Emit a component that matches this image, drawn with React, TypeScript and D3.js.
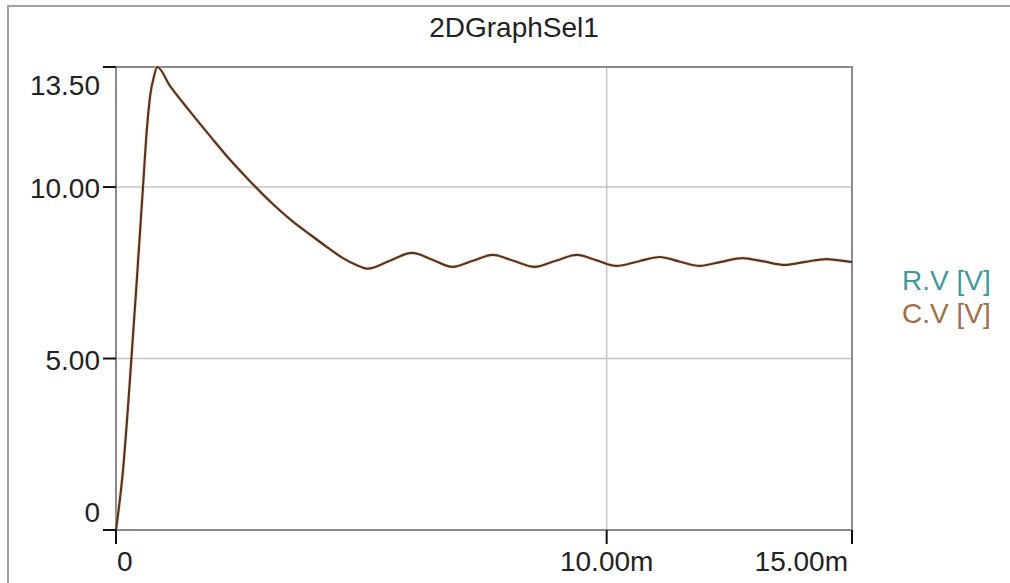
import * as d3 from "d3";

// C.V transient: time in ms, voltage in V
const timeMs = [
  0, 0.14, 0.28, 0.42, 0.55, 0.63, 0.7, 0.77, 0.84,
  1.1, 1.51, 1.91, 2.32, 2.73, 3.2, 3.6, 3.95, 4.3, 4.6, 4.91, 5.13,
  5.58, 6.03, 6.45, 6.86, 7.27, 7.68, 8.1, 8.53, 8.96, 9.39, 9.8, 10.2,
  10.64, 11.08, 11.48, 11.89, 12.33, 12.77, 13.2, 13.63, 14.05, 14.48, 14.9, 15,
];
const voltage = [
  0, 1.7, 4.3, 7.2, 10.0, 11.7, 12.7, 13.2, 13.5,
  12.95, 12.2, 11.5, 10.8, 10.17, 9.5, 9.0, 8.62, 8.25, 7.95, 7.72, 7.62,
  7.85, 8.08, 7.88, 7.67, 7.85, 8.02, 7.85, 7.67, 7.85, 8.02, 7.86, 7.7,
  7.83, 7.96, 7.83, 7.7, 7.82, 7.93, 7.83, 7.73, 7.82, 7.9, 7.83, 7.81,
];

const xTicks = [0, 10, 15];
const xTickLabels = ["0", "10.00m", "15.00m"];
const xGrid = [10];
const yTicks = [0, 5, 10, 13.5];
const yTickLabels = ["0", "5.00", "10.00", "13.50"];
const yGrid = [5, 10];

const legendNames = ["R.V [V]", "C.V [V]"];
const legendColors = ["#3f9a9c", "#a06e48"];

const W = 1010;
const H = 583;
const PLOT = { left: 116, right: 852, top: 67, bottom: 530 };
const FONT = "'Liberation Sans', Arial, sans-serif";

export default function App() {
  const x = d3.scaleLinear().domain([0, 15]).range([PLOT.left, PLOT.right]);
  const y = d3.scaleLinear().domain([0, 13.5]).range([PLOT.bottom, PLOT.top]);

  const pts = timeMs.map((t, i) => [t, voltage[i]] as [number, number]);
  const line = d3
    .line<[number, number]>()
    .x((d) => x(d[0]))
    .y((d) => y(d[1]))
    .curve(d3.curveMonotoneX);
  const path = line(pts) || "";

  return (
    <svg
      width={W}
      height={H}
      style={{ position: "absolute", left: 0, top: 0, background: "#fff" }}
    >
      {/* outer frame */}
      <path d={`M8,${H} V6 H${W}`} fill="none" stroke="#a0a0a0" strokeWidth={2} />
      <text x={514} y={37} textAnchor="middle" fontFamily={FONT} fontSize={28} fill="#222">
        2DGraphSel1
      </text>

      {/* grid */}
      {yGrid.map((v) => (
        <line key={"gy" + v} x1={PLOT.left} x2={PLOT.right} y1={y(v)} y2={y(v)} stroke="#c4c4c4" strokeWidth={1.5} />
      ))}
      {xGrid.map((v) => (
        <line key={"gx" + v} x1={x(v)} x2={x(v)} y1={PLOT.top} y2={PLOT.bottom} stroke="#c4c4c4" strokeWidth={1.5} />
      ))}

      {/* plot frame */}
      <rect
        x={PLOT.left}
        y={PLOT.top}
        width={PLOT.right - PLOT.left}
        height={PLOT.bottom - PLOT.top}
        fill="none"
        stroke="#8a8a8a"
        strokeWidth={2}
      />

      {/* curve */}
      <path d={path} fill="none" stroke="#f6c896" strokeWidth={4} opacity={0.35} />
      <path d={path} fill="none" stroke="#5a3222" strokeWidth={2.2} />

      {/* y ticks */}
      {yTicks.map((v, i) => {
        const yy = y(v);
        const base = Math.min(Math.max(yy + 11, PLOT.top + 28), PLOT.bottom - 8);
        return (
          <g key={"yt" + v}>
            <line x1={PLOT.left - 13} x2={PLOT.left} y1={yy} y2={yy} stroke="#111" strokeWidth={2} />
            <text x={100} y={base} textAnchor="end" fontFamily={FONT} fontSize={28} fill="#222">
              {yTickLabels[i]}
            </text>
          </g>
        );
      })}

      {/* x ticks */}
      {xTicks.map((v, i) => {
        const xx = x(v);
        const anchor = i === 0 ? "start" : i === xTicks.length - 1 ? "end" : "middle";
        const tx = i === 0 ? xx + 1 : i === xTicks.length - 1 ? xx - 4 : xx;
        return (
          <g key={"xt" + v}>
            <line x1={xx} x2={xx} y1={PLOT.bottom} y2={PLOT.bottom + 14} stroke="#111" strokeWidth={2} />
            <text x={tx} y={571} textAnchor={anchor} fontFamily={FONT} fontSize={28} fill="#222">
              {xTickLabels[i]}
            </text>
          </g>
        );
      })}

      {/* legend */}
      {legendNames.map((n, i) => (
        <text key={n} x={902} y={290 + i * 33} fontFamily={FONT} fontSize={28} fill={legendColors[i]}>
          {n}
        </text>
      ))}
    </svg>
  );
}
